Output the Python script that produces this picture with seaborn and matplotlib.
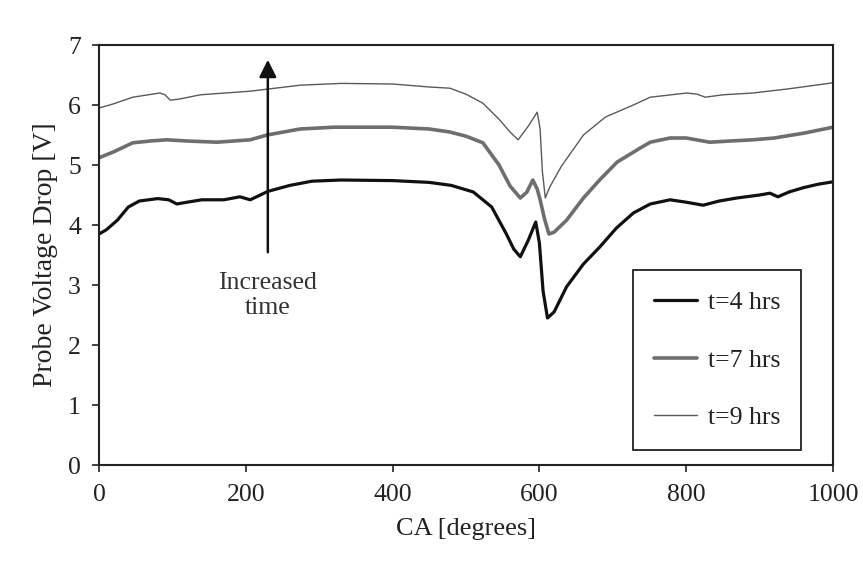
import numpy as np
import pandas as pd
import matplotlib
matplotlib.use("Agg")
import matplotlib.pyplot as plt
import seaborn as sns

# ---- data ----
x4 = [0, 10, 25, 40, 55, 80, 95, 106, 120, 140, 170, 192, 206, 230, 260, 290, 330, 400, 450, 480,
      510, 535, 555, 565, 574, 585, 595, 600, 605, 611, 620, 637, 660, 682, 705, 728, 751, 778,
      800, 823, 845, 869, 900, 914, 925, 940, 959, 980, 1000]
y4 = [3.85, 3.92, 4.08, 4.30, 4.40, 4.44, 4.42, 4.35, 4.38, 4.42, 4.42, 4.47, 4.42, 4.56, 4.66,
      4.73, 4.75, 4.74, 4.71, 4.66, 4.55, 4.30, 3.85, 3.60, 3.47, 3.75, 4.05, 3.70, 2.90, 2.45,
      2.55, 2.97, 3.35, 3.63, 3.95, 4.20, 4.35, 4.42, 4.38, 4.33, 4.40, 4.45, 4.50, 4.53, 4.47,
      4.55, 4.62, 4.68, 4.72]

x7 = [0, 20, 46, 70, 92, 120, 161, 206, 229, 274, 320, 400, 450, 478, 500, 523, 545, 560, 574,
      583, 591, 597, 601, 607, 613, 620, 637, 660, 682, 706, 737, 751, 778, 800, 832, 860, 891,
      920, 960, 1000]
y7 = [5.12, 5.22, 5.37, 5.40, 5.42, 5.40, 5.38, 5.42, 5.50, 5.60, 5.63, 5.63, 5.60, 5.55, 5.48,
      5.37, 5.00, 4.65, 4.45, 4.55, 4.75, 4.60, 4.42, 4.10, 3.85, 3.88, 4.08, 4.45, 4.75, 5.05,
      5.28, 5.38, 5.45, 5.45, 5.38, 5.40, 5.42, 5.45, 5.53, 5.63]

x9 = [0, 20, 46, 83, 90, 97, 110, 138, 206, 274, 330, 400, 450, 478, 500, 523, 546, 560, 571,
      585, 597, 601, 604, 608, 614, 630, 660, 690, 728, 751, 801, 815, 826, 850, 891, 940, 1000]
y9 = [5.95, 6.02, 6.13, 6.20, 6.17, 6.08, 6.10, 6.17, 6.23, 6.33, 6.36, 6.35, 6.30, 6.28, 6.18,
      6.03, 5.75, 5.55, 5.42, 5.65, 5.88, 5.60, 4.90, 4.45, 4.63, 4.98, 5.50, 5.80, 6.00, 6.13,
      6.20, 6.18, 6.13, 6.17, 6.20, 6.27, 6.37]

labels = ["t=4 hrs", "t=7 hrs", "t=9 hrs"]
x_ticks = [0, 200, 400, 600, 800, 1000]
y_ticks = [0, 1, 2, 3, 4, 5, 6, 7]

sns.set_style("ticks")
plt.rcParams["font.family"] = ["Liberation Serif", "DejaVu Serif"]

fig = plt.figure(figsize=(8.63, 5.68), dpi=100)
ax = fig.add_axes([99 / 863, 1 - 465 / 568, (833 - 99) / 863, (465 - 45) / 568])

styles = [
    dict(color="#111111", lw=2.3),
    dict(color="#6e6e6e", lw=2.6),
    dict(color="#5a5a5a", lw=1.0),
]
for xs, ys, lab, st in zip([x4, x7, x9], [y4, y7, y9], labels, styles):
    df = pd.DataFrame({"CA": xs, "V": ys})
    sns.lineplot(data=df, x="CA", y="V", ax=ax, label=lab, **st)

ax.set_xlim(0, 1000)
ax.set_ylim(0, 7)
ax.set_xticks(x_ticks)
ax.set_yticks(y_ticks)
ax.tick_params(axis="both", labelsize=18.5, direction="out", length=5, width=1.2, color="#222222",
               labelcolor="#222222")
ax.tick_params(axis="x", pad=9)
ax.tick_params(axis="y", pad=8)
for sp in ax.spines.values():
    sp.set_visible(True)
    sp.set_color("#222222")
    sp.set_linewidth(1.5)

ax.set_xlabel("CA [degrees]", fontsize=19, color="#222222", labelpad=8)
ax.set_ylabel("Probe Voltage Drop [V]", fontsize=20, color="#222222", labelpad=7)

ax.annotate("", xy=(230, 6.80), xytext=(230, 3.50),
            arrowprops=dict(arrowstyle="-|>", color="#111111", lw=1.8, mutation_scale=26))
ax.text(230, 2.82, "Increased\ntime", ha="center", va="center", fontsize=18.5,
        color="#333333", linespacing=1.2)

leg = ax.legend(loc="lower right", bbox_to_anchor=(0.956, 0.036), fontsize=18.5,
                frameon=True, fancybox=False, framealpha=1, edgecolor="#222222",
                borderpad=0.8, labelspacing=1.35, handlelength=1.7, handletextpad=0.4,
                borderaxespad=0)
leg.get_frame().set_linewidth(1.3)
for t in leg.get_texts():
    t.set_color("#222222")

fig.savefig("out.png", dpi=100, facecolor="white")
